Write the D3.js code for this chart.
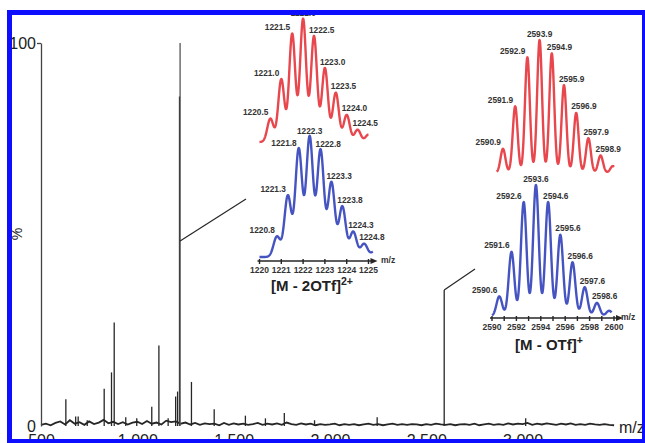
<!DOCTYPE html>
<html>
<head>
<meta charset="utf-8">
<script src="https://cdn.jsdelivr.net/npm/d3@7"></script>
<style>
  body { margin: 0; background: #fff; }
  svg { display: block; font-family: "Liberation Sans", Arial, sans-serif; }
</style>
</head>
<body>
<div id="chart"></div>
<script>
// main spectrum: sticks (m/z, relative %)
const peakMz  = [629, 680, 693, 740, 828, 866, 880, 940, 997, 1075, 1112, 1160, 1199, 1209, 1219, 1222, 1281, 1399, 1561, 1665, 1763, 1920, 2245, 2593, 3016];
const peakInt = [7, 2.5, 2.5, 1.5, 9.7, 14, 27, 2.3, 2, 5, 21, 2, 7.7, 9, 86, 100, 11.5, 4.4, 2.7, 2, 3.4, 1.5, 2.3, 35.5, 2];

// baseline noise, one value every 25 m/z from 500
const noiseStart = 500;
const noiseStep = 25;
const noiseInt = [
  0.3, 0.6, 0.2, 0.8,  1.2, 0.4, 1.5, 0.6,  1.0, 0.3, 1.2, 0.5,  0.9, 1.6, 0.7, 1.1,
  0.5, 1.0, 0.4, 0.9,  1.1, 0.5, 1.3, 0.6,  0.9, 0.4, 1.4, 1.0,  1.2, 0.6, 0.9, 0.4,
  0.8, 0.3, 0.7, 0.5,  0.6, 0.2, 0.8, 0.3,  0.7, 0.4, 0.6, 0.3,  0.5, 0.8, 0.3, 0.6,
  0.4, 0.7, 0.3, 0.9,  0.5, 0.3, 0.7, 0.4,  0.6, 0.2, 0.5, 0.3,  0.4, 0.6, 0.2, 0.5,
  0.3, 0.5, 0.2, 0.4,  0.6, 0.3, 0.5, 0.2,  0.4, 0.6, 0.3, 0.5,  0.3, 0.5, 0.4, 0.2,
  0.5, 0.3, 0.6, 0.4,  0.3, 0.5, 0.2, 0.4,  0.5, 0.3, 0.6, 0.2,  0.4, 0.6, 0.3, 0.5,
  0.3, 0.7, 0.4, 0.6,  0.5, 0.8, 0.3, 0.6,  0.4, 0.7, 0.5, 0.3,  0.6, 0.4, 0.7, 0.3,
  0.5, 0.3, 0.6, 0.4,  0.3, 0.5, 0.3, 0.2
];
const xTicks = [500, 1000, 1500, 2000, 2500, 3000];

// inset 1: [M - 2OTf]2+
const diRedMz  = [1220.5, 1221.0, 1221.5, 1222.0, 1222.5, 1223.0, 1223.5, 1224.0, 1224.5, 1225.0];
const diRedInt = [19, 51, 88, 100, 86, 60, 40, 22, 10, 6];
const diRedLabels = ["1220.5", "1221.0", "1221.5", "1222.0", "1222.5", "1223.0", "1223.5", "1224.0", "1224.5", ""];
const diBlueMz  = [1220.8, 1221.3, 1221.8, 1222.3, 1222.8, 1223.3, 1223.8, 1224.3, 1224.8, 1225.3];
const diBlueInt = [17, 51, 90, 100, 89, 62, 42, 21, 11, 5];
const diBlueLabels = ["1220.8", "1221.3", "1221.8", "1222.3", "1222.8", "1223.3", "1223.8", "1224.3", "1224.8", ""];
const diTicks = [1220, 1221, 1222, 1223, 1224, 1225];

// inset 2: [M - OTf]+
const monoRedMz  = [2590.9, 2591.9, 2592.9, 2593.9, 2594.9, 2595.9, 2596.9, 2597.9, 2598.9, 2599.9];
const monoRedInt = [18, 50, 87, 100, 90, 66, 45, 26, 13, 5];
const monoRedLabels = ["2590.9", "2591.9", "2592.9", "2593.9", "2594.9", "2595.9", "2596.9", "2597.9", "2598.9", ""];
const monoBlueMz  = [2590.6, 2591.6, 2592.6, 2593.6, 2594.6, 2595.6, 2596.6, 2597.6, 2598.6, 2599.6];
const monoBlueInt = [15, 49, 87, 100, 87, 62, 41, 22, 10, 4];
const monoBlueLabels = ["2590.6", "2591.6", "2592.6", "2593.6", "2594.6", "2595.6", "2596.6", "2597.6", "2598.6", ""];
const monoTicks = [2590, 2592, 2594, 2596, 2598, 2600];

const W = 645, H = 443;
const red = "#e8474d", blue = "#4654c2", ink = "#262626";

const svg = d3.select("#chart").append("svg")
    .attr("width", W)
    .attr("height", H);

// ---------- main spectrum ----------
const x = d3.scaleLinear().domain([500, 3490]).range([41, 617]);
const y = d3.scaleLinear().domain([0, 100]).range([426, 43]);

const noise = noiseInt.map((v, i) => [noiseStart + i * noiseStep, v]);
svg.append("path")
    .datum(noise)
    .attr("d", d3.line().x(d => x(d[0])).y(d => y(d[1])))
    .attr("fill", "none")
    .attr("stroke", ink)
    .attr("stroke-width", 1.8);

svg.append("g")
    .selectAll("line")
    .data(peakMz.map((m, i) => [m, peakInt[i]]))
    .join("line")
    .attr("x1", d => x(d[0])).attr("x2", d => x(d[0]))
    .attr("y1", y(0)).attr("y2", d => y(d[1]))
    .attr("stroke", d => d[1] > 90 ? "#555" : ink)
    .attr("stroke-width", 1.3);

const yAxis = svg.append("g")
    .attr("transform", "translate(41,0)")
    .call(d3.axisLeft(y).tickValues([0, 100]).tickSize(4).tickSizeOuter(0).tickPadding(1));
yAxis.selectAll("path, line").attr("stroke", "#444").attr("stroke-width", 1.3);
yAxis.selectAll("text").style("font-size", "16px").attr("fill", "#222");
yAxis.selectAll(".tick").filter(d => d === 0).select("line").remove();

const xAxis = svg.append("g")
    .attr("transform", "translate(0,426)")
    .call(d3.axisBottom(x).tickValues(xTicks).tickSize(0).tickPadding(9));
xAxis.select(".domain").remove();
xAxis.selectAll("text").style("font-size", "16px").attr("fill", "#222");

svg.append("text")
    .attr("x", 619).attr("y", 433)
    .style("font-size", "16px").attr("fill", "#222")
    .text("m/z");

svg.append("text")
    .attr("transform", "translate(22,234) rotate(-90)")
    .attr("text-anchor", "middle")
    .style("font-size", "14px").attr("fill", "#222")
    .text("%");

// connectors from main peaks to insets
svg.append("line")
    .attr("x1", x(1222)).attr("y1", y(48.3))
    .attr("x2", 246).attr("y2", 199)
    .attr("stroke", ink).attr("stroke-width", 1.2);
svg.append("line")
    .attr("x1", x(2593)).attr("y1", y(35.5))
    .attr("x2", 475).attr("y2", 269)
    .attr("stroke", ink).attr("stroke-width", 1.2);

// ---------- insets ----------
function trace(sx, sy, mz, ints, labels, sigma, lo, hi, color) {
  const pts = d3.range(lo, hi + 1e-9, (hi - lo) / 500).map(m => {
    let v = 0;
    mz.forEach((c, i) => { v += ints[i] * Math.exp(-((m - c) * (m - c)) / (2 * sigma * sigma)); });
    return [m, v];
  });
  svg.append("path")
      .datum(pts)
      .attr("d", d3.line().x(d => sx(d[0])).y(d => sy(d[1])))
      .attr("fill", "none")
      .attr("stroke", color)
      .attr("stroke-width", 2.4)
      .attr("stroke-linejoin", "round");

  const top = d3.maxIndex(ints);
  svg.append("g")
      .selectAll("text")
      .data(mz.map((m, i) => ({m, v: ints[i], t: labels[i], i})).filter(d => d.t))
      .join("text")
      .attr("x", d => d.i < top ? sx(d.m) - 2 : d.i > top ? sx(d.m) - 5 : sx(d.m))
      .attr("y", d => sy(d.v) - 3.5)
      .attr("text-anchor", d => d.i < top ? "end" : d.i > top ? "start" : "middle")
      .style("font-size", "8.3px").style("font-weight", "bold")
      .attr("fill", "#333")
      .text(d => d.t);
}

function insetAxis(sx, ay, ticks, minor, labelY, mzX) {
  const [a, b] = sx.range();
  svg.append("line")
      .attr("x1", a - 2).attr("x2", b + 4).attr("y1", ay).attr("y2", ay)
      .attr("stroke", ink).attr("stroke-width", 1.6);
  svg.append("path")
      .attr("d", `M${b + 9},${ay} L${b + 2},${ay - 3} L${b + 2},${ay + 3} Z`)
      .attr("fill", ink);
  svg.append("g").selectAll("line")
      .data(minor)
      .join("line")
      .attr("x1", d => sx(d)).attr("x2", d => sx(d))
      .attr("y1", ay - 2).attr("y2", ay + 3)
      .attr("stroke", ink).attr("stroke-width", 1.4);
  svg.append("g").selectAll("text")
      .data(ticks)
      .join("text")
      .attr("x", d => sx(d)).attr("y", labelY)
      .attr("text-anchor", "middle")
      .style("font-size", "8.5px").style("font-weight", "bold")
      .attr("fill", "#333")
      .text(d => d);
  svg.append("text")
      .attr("x", mzX).attr("y", ay + 2)
      .style("font-size", "8.5px").style("font-weight", "bold")
      .attr("fill", "#333")
      .text("m/z");
}

// inset 1
const dx = d3.scaleLinear().domain([1220, 1225]).range([259.5, 368.5]);
const dRedY = d3.scaleLinear().domain([0, 100]).range([142, 19]);
const dBlueY = d3.scaleLinear().domain([0, 100]).range([257, 137]);
trace(dx, dRedY, diRedMz, diRedInt, diRedLabels, 0.14, 1220, 1225, red);
trace(dx, dBlueY, diBlueMz, diBlueInt, diBlueLabels, 0.155, 1220, 1225.2, blue);
insetAxis(dx, 261, diTicks, diTicks, 273, 381);

svg.append("text")
    .attr("x", 312).attr("y", 291)
    .attr("text-anchor", "middle")
    .style("font-size", "15px").style("font-weight", "bold")
    .attr("fill", "#222")
    .text("[M - 2OTf]")
    .append("tspan")
    .attr("dy", -6)
    .style("font-size", "10.5px")
    .text("2+");

// inset 2
const mx = d3.scaleLinear().domain([2590, 2600]).range([492, 614]);
const mRedY = d3.scaleLinear().domain([0, 100]).range([172.7, 40]);
const mBlueY = d3.scaleLinear().domain([0, 100]).range([316, 185]);
trace(mx, mRedY, monoRedMz, monoRedInt, monoRedLabels, 0.2, 2590.4, 2600, red);
trace(mx, mBlueY, monoBlueMz, monoBlueInt, monoBlueLabels, 0.23, 2590, 2599.8, blue);
insetAxis(mx, 318, monoTicks, d3.range(2590, 2601, 1), 330, 621);

svg.append("text")
    .attr("x", 549).attr("y", 350)
    .attr("text-anchor", "middle")
    .style("font-size", "15px").style("font-weight", "bold")
    .attr("fill", "#222")
    .text("[M - OTf]")
    .append("tspan")
    .attr("dy", -6)
    .style("font-size", "10.5px")
    .text("+");

// blue frame
const frame = "#0d0dff";
svg.append("rect").attr("x", 7).attr("y", 10).attr("width", 5).attr("height", 433).attr("fill", frame);
svg.append("rect").attr("x", 7).attr("y", 10).attr("width", 638).attr("height", 5).attr("fill", frame);
svg.append("rect").attr("x", 642).attr("y", 10).attr("width", 3).attr("height", 433).attr("fill", frame);
svg.append("rect").attr("x", 7).attr("y", 439).attr("width", 638).attr("height", 4).attr("fill", frame);
</script>
</body>
</html>
